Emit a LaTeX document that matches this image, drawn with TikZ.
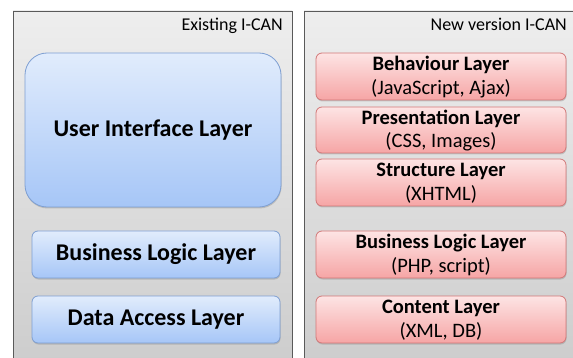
\documentclass[tikz,border=0pt]{standalone}
\usepackage{fontspec}
\setmainfont{Carlito}
\usetikzlibrary{shadows}
\definecolor{panelborder}{HTML}{5A5A5A}
\definecolor{paneltop}{HTML}{EEEEEE}
\definecolor{panelbot}{HTML}{CDCDCD}
\definecolor{bluetop}{HTML}{E1ECFC}
\definecolor{bluebot}{HTML}{A6C6F7}
\definecolor{blueborder}{HTML}{7E9FD2}
\definecolor{redtop}{HTML}{FDE4E4}
\definecolor{redbot}{HTML}{F6A5A5}
\definecolor{redborder}{HTML}{D27878}
\tikzset{
  panel/.style={draw=panelborder, line width=0.8pt, top color=paneltop, bottom color=panelbot},
  bluebox/.style={draw=blueborder, line width=0.8pt, rounded corners=6pt, top color=bluetop, bottom color=bluebot,
    drop shadow={shadow xshift=0.5pt, shadow yshift=-1.5pt, opacity=0.35}},
  redbox/.style={draw=redborder, line width=0.8pt, rounded corners=6pt, top color=redtop, bottom color=redbot,
    drop shadow={shadow xshift=0.5pt, shadow yshift=-1.5pt, opacity=0.35}},
  bigtxt/.style={font=\fontsize{24}{26}\selectfont\bfseries, text=black},
  midtxt/.style={font=\fontsize{20.5}{23.5}\selectfont, text=black, align=center, inner sep=0pt},
  ttl/.style={font=\fontsize{18}{20}\selectfont, text=black, anchor=base east, inner sep=0pt}
}
\begin{document}
\begin{tikzpicture}[x=1pt,y=-1pt]
\useasboundingbox (0,0) rectangle (573,358);
\fill[white] (0,0) rectangle (573,358);
% panels
\path[panel] (13,11) rectangle (292,362);
\path[panel] (304,11) rectangle (578,362);
\node[ttl] (t1) at (283,31) {Existing I-CAN};
\node[ttl] (t2) at (567,31) {New version I-CAN};
% left boxes
\path[bluebox, rounded corners=22pt] (25,53) rectangle (281,207);
\node[bigtxt] (ui) at (153,130) {User Interface Layer};
\path[bluebox] (32,231) rectangle (280,278);
\node[bigtxt] (bl) at (156,254.5) {Business Logic Layer};
\path[bluebox] (32,296) rectangle (280,343);
\node[bigtxt] (da) at (156,319.5) {Data Access Layer};
% right boxes
\path[redbox] (316,53) rectangle (566,100);
\node[midtxt] (beh) at (441,77) {\textbf{Behaviour Layer}\\(JavaScript, Ajax)};
\path[redbox] (316,107) rectangle (566,153);
\node[midtxt] (pre) at (441,130.5) {\textbf{Presentation Layer}\\(CSS, Images)};
\path[redbox] (316,159) rectangle (566,206);
\node[midtxt] (str) at (441,183) {\textbf{Structure Layer}\\(XHTML)};
\path[redbox] (316,231) rectangle (566,278);
\node[midtxt] (bus) at (441,255) {\textbf{Business Logic Layer}\\(PHP, script)};
\path[redbox] (316,296) rectangle (566,343);
\node[midtxt] (con) at (441,320) {\textbf{Content Layer}\\(XML, DB)};
\end{tikzpicture}
\end{document}
